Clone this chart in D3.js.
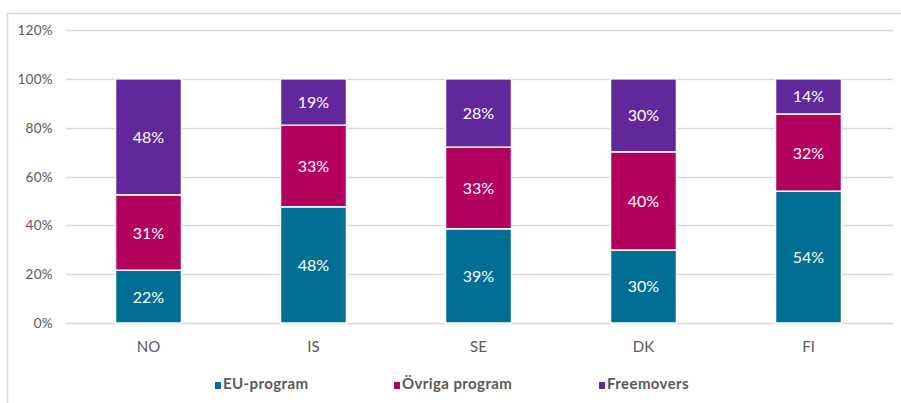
<!DOCTYPE html>
<html>
<head>
<meta charset="utf-8">
<script src="https://cdn.jsdelivr.net/npm/d3@7"></script>
<style>
  body { margin: 0; background: #fff; }
  svg text { font-family: Lato, "Open Sans", sans-serif; }
</style>
</head>
<body>
<div id="chart-area"></div>
<script>
// data
var countries = ["NO", "IS", "SE", "DK", "FI"];
var seriesNames = ["EU-program", "Övriga program", "Freemovers"];
var euProgram = [21.6, 47.6, 38.6, 29.9, 54.0];
var ovrigaProgram = [30.9, 33.4, 33.4, 40.2, 31.6];
var freemovers = [47.5, 19.0, 28.0, 29.9, 14.4];
var yTicks = [0, 20, 40, 60, 80, 100, 120];
var colors = ["#016F94", "#B3005F", "#62289B"];

var width = 901, height = 403;
var margin = { left: 66, right: 10, top: 30, bottom: 80 };

var svg = d3.select("#chart-area")
    .append("svg")
    .attr("width", width)
    .attr("height", height);

// outer frame
svg.append("rect")
    .attr("x", 7.5).attr("y", 13.5)
    .attr("width", width).attr("height", height)
    .attr("fill", "none")
    .attr("stroke", "#d9d9d9")
    .attr("stroke-width", 1.5);

var x = d3.scaleBand().domain(countries).range([margin.left, 891]).paddingInner(0.6).paddingOuter(0.3);
var y = d3.scaleLinear().domain([0, 120]).range([323, 30]);

// gridlines
svg.append("g")
    .selectAll("line")
    .data(yTicks)
    .join("line")
    .attr("x1", margin.left).attr("x2", 893)
    .attr("y1", function(d) { return Math.round(y(d)) + 0.5; })
    .attr("y2", function(d) { return Math.round(y(d)) + 0.5; })
    .attr("stroke", "#d9d9d9")
    .attr("stroke-width", 1.5);

svg.append("g")
    .selectAll("text")
    .data(yTicks)
    .join("text")
    .attr("x", 53)
    .attr("y", function(d) { return y(d) + 5; })
    .attr("text-anchor", "end")
    .attr("font-size", "13.5px")
    .attr("letter-spacing", "0.3px")
    .attr("fill", "#595959")
    .text(function(d) { return d + "%"; });

// stacked bars
var table = countries.map(function(c, i) {
    return { country: c, eu: euProgram[i], ovr: ovrigaProgram[i], free: freemovers[i] };
});
var stack = d3.stack().keys(["eu", "ovr", "free"]);
var layers = stack(table);

var groups = svg.append("g")
    .selectAll("g")
    .data(layers)
    .join("g")
    .attr("fill", function(d, i) { return colors[i]; });

groups.selectAll("rect")
    .data(function(d) { return d; })
    .join("rect")
    .attr("x", function(d) { return x(d.data.country); })
    .attr("width", x.bandwidth())
    .attr("y", function(d) { return y(d[1]); })
    .attr("height", function(d) { return y(d[0]) - y(d[1]); })
    .attr("stroke", "#fff")
    .attr("stroke-width", 1.5);

groups.selectAll("text")
    .data(function(d) { return d; })
    .join("text")
    .attr("x", function(d) { return x(d.data.country) + x.bandwidth() / 2; })
    .attr("y", function(d) { return (y(d[0]) + y(d[1])) / 2 + 6; })
    .attr("text-anchor", "middle")
    .attr("font-size", "16px")
    .attr("fill", "#fff")
    .text(function(d) { return Math.round(d[1] - d[0]) + "%"; });

// x axis labels
svg.append("g")
    .selectAll("text")
    .data(countries)
    .join("text")
    .attr("x", function(d) { return x(d) + x.bandwidth() / 2; })
    .attr("y", 352)
    .attr("text-anchor", "middle")
    .attr("font-size", "15px")
    .attr("fill", "#595959")
    .text(function(d) { return d; });

// legend
var legendX = [215, 394, 599];
var legend = svg.append("g")
    .selectAll("g")
    .data(seriesNames)
    .join("g")
    .attr("transform", function(d, i) { return "translate(" + legendX[i] + ",389)"; });

legend.append("rect")
    .attr("x", 0).attr("y", -7)
    .attr("width", 6).attr("height", 7)
    .attr("fill", function(d, i) { return colors[i]; });

legend.append("text")
    .attr("x", 8).attr("y", 0)
    .attr("font-size", "15px")
    .attr("font-weight", "bold")
    .attr("letter-spacing", "0.4px")
    .attr("fill", "#595959")
    .text(function(d) { return d; });
</script>
</body>
</html>
